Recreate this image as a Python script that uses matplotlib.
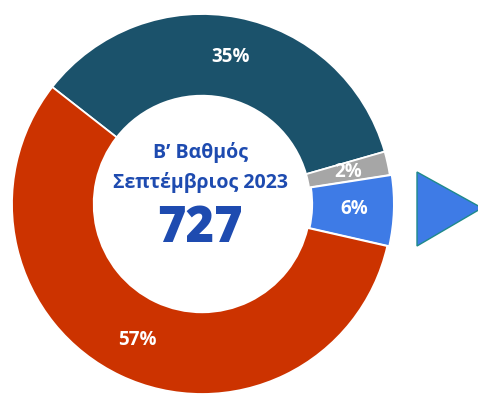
import matplotlib.pyplot as plt
from matplotlib.patches import Polygon

# donut data (share of grades, %)
labels = ['teal', 'grey', 'blue', 'red']
values = [35, 2, 6, 57]
colors = ['#1b526b', '#a6a6a6', '#3e7be6', '#cc3300']
explode = [0, 0, 0.01, 0]

title_line1 = 'Β’ Βαθμός'
title_line2 = 'Σεπτέμβριος 2023'
total = '727'

plt.rcParams['font.family'] = ['Open Sans', 'DejaVu Sans']

W, H = 478, 405
fig = plt.figure(figsize=(W / 100, H / 100), dpi=100)

# donut centre in pixels and outer radius
cx, cy, R = 202, 204, 190
lim = 1.05
size = 2 * lim * R
ax = fig.add_axes([(cx - size / 2) / W, (H - cy - size / 2) / H, size / W, size / H])

wedges, texts, autotexts = ax.pie(
    values, colors=colors, explode=explode, startangle=142, counterclock=False,
    radius=1, autopct=lambda p: f'{p:.0f}%', pctdistance=0.79,
    wedgeprops=dict(width=0.43, edgecolor='white', linewidth=1.3),
    textprops=dict(color='white', fontsize=13.5, fontweight='bold'))

ax.set_xlim(-lim, lim)
ax.set_ylim(-lim, lim)
ax.set_aspect('equal')
ax.axis('off')

navy = '#1e4bb0'
ax.text(-0.01, 0.27, title_line1, ha='center', va='center', color=navy,
        fontsize=14, fontweight='bold')
ax.text(-0.01, 0.115, title_line2, ha='center', va='center', color=navy,
        fontsize=14, fontweight='bold')
ax.text(-0.01, -0.13, total, ha='center', va='center', color=navy,
        fontsize=35, fontweight='heavy')

# arrow-like triangle on the right
tri = Polygon([(417 / W, 1 - 172 / H), (417 / W, 1 - 246 / H), (482 / W, 1 - 208 / H)],
              closed=True, transform=fig.transFigure, facecolor='#3e7be6',
              edgecolor='#1f8a8a', linewidth=1.0)
fig.patches.append(tri)

fig.savefig('out.png', dpi=100)
